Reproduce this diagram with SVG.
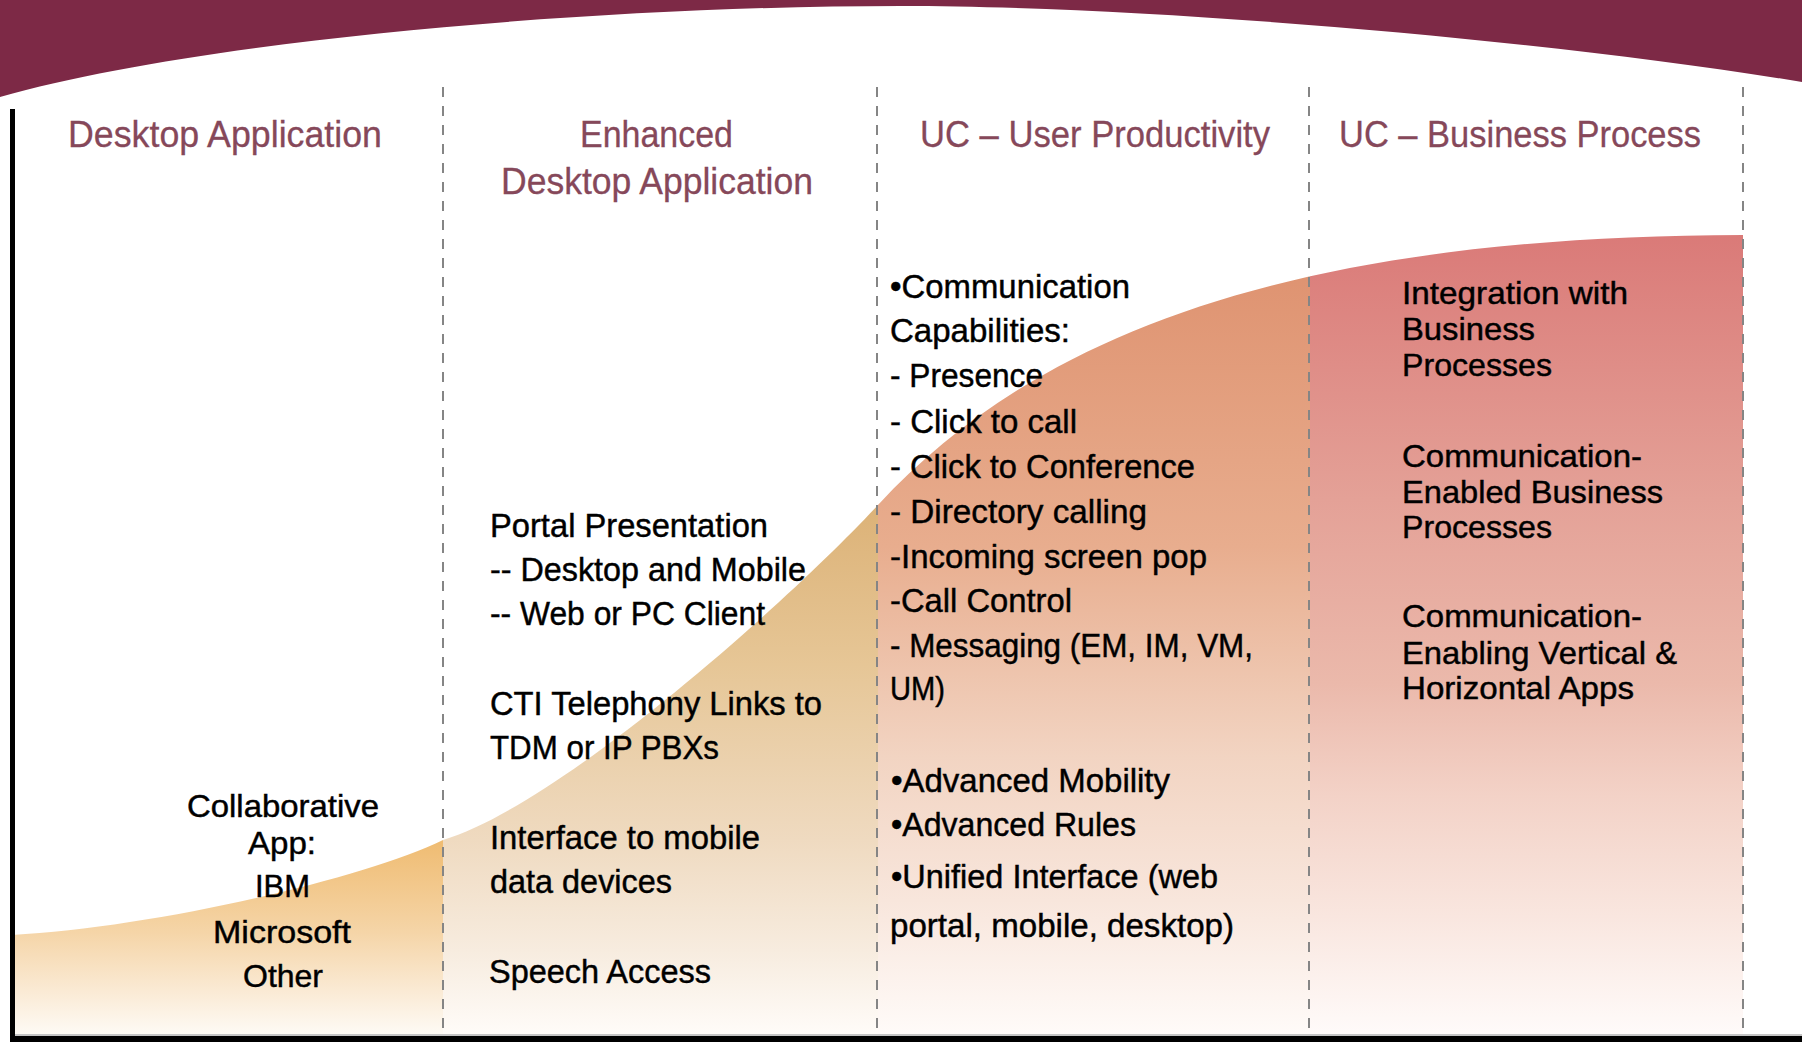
<svg xmlns="http://www.w3.org/2000/svg" width="1802" height="1042" viewBox="0 0 1802 1042">
<style>
.hdr{font-family:"Liberation Sans","Arial",sans-serif;font-size:37px;fill:#86485a;stroke:#86485a;stroke-width:0.3}
.b32{font-family:"Liberation Sans","Arial",sans-serif;font-size:32px;fill:#000;stroke:#000;stroke-width:0.45}
.b34{font-family:"Liberation Sans","Arial",sans-serif;font-size:34px;fill:#000;stroke:#000;stroke-width:0.45}
.div{stroke:#858585;stroke-width:2;stroke-dasharray:10 9;fill:none}
</style>
<defs>
<clipPath id="area">
<path d="M12,935 C150,928 360,880 443,840 C560,805 790,600 878,505 C1040,330 1300,236 1743,235 V1036 H12 Z"/>
</clipPath>
<linearGradient id="g1" gradientUnits="userSpaceOnUse" x1="0" y1="838" x2="0" y2="1036">
<stop offset="0" stop-color="#efbb70"/><stop offset="0.48" stop-color="#f5d5a8"/><stop offset="0.77" stop-color="#faead4"/><stop offset="1" stop-color="#fefbf6"/>
</linearGradient>
<linearGradient id="g2" gradientUnits="userSpaceOnUse" x1="0" y1="505" x2="0" y2="1036">
<stop offset="0" stop-color="#dcb277"/><stop offset="0.3" stop-color="#e6c696"/><stop offset="0.63" stop-color="#efdac0"/><stop offset="0.84" stop-color="#f7ecdf"/><stop offset="1" stop-color="#fffcf9"/>
</linearGradient>
<linearGradient id="g3" gradientUnits="userSpaceOnUse" x1="0" y1="282" x2="0" y2="1036">
<stop offset="0" stop-color="#df9472"/><stop offset="0.35" stop-color="#e8ad8e"/><stop offset="0.63" stop-color="#f2d4c2"/><stop offset="0.82" stop-color="#f8e6dc"/><stop offset="1" stop-color="#fffbf9"/>
</linearGradient>
<linearGradient id="g4" gradientUnits="userSpaceOnUse" x1="0" y1="235" x2="0" y2="1036">
<stop offset="0" stop-color="#da7a78"/><stop offset="0.33" stop-color="#e4a197"/><stop offset="0.56" stop-color="#ebb9ab"/><stop offset="0.7" stop-color="#f3d2c7"/><stop offset="0.85" stop-color="#f9e6df"/><stop offset="1" stop-color="#fffbfa"/>
</linearGradient>
</defs>
<rect width="1802" height="1042" fill="#fff"/>
<path id="top-band" d="M0,0 H1802 V82 C1550,40 1150,6 900,6 C600,6 200,40 0,97 Z" fill="#7d2946"/>
<g id="adoption-curve" clip-path="url(#area)">
<rect x="12" y="230" width="431" height="810" fill="url(#g1)"/>
<rect x="443" y="230" width="435" height="810" fill="url(#g2)"/>
<rect x="878" y="230" width="432" height="810" fill="url(#g3)"/>
<rect x="1310" y="230" width="433" height="810" fill="url(#g4)"/>
</g>
<g id="frame">
<rect x="10" y="109" width="5" height="933" fill="#000"/>
<rect x="10" y="1036" width="1792" height="6" fill="#000"/>
<rect x="15" y="1034" width="1787" height="2" fill="#c4c4c4"/>
</g>
<g id="connectors">
<line class="div" x1="443" y1="87" x2="443" y2="1032"/>
<line class="div" x1="877" y1="87" x2="877" y2="1032"/>
<line class="div" x1="1309" y1="87" x2="1309" y2="1032"/>
<line class="div" x1="1743" y1="87" x2="1743" y2="1032"/>
</g>
<g id="col-desktop">
<text class="hdr" x="68" y="147" textLength="314" lengthAdjust="spacingAndGlyphs">Desktop Application</text>
<text class="b32" x="187" y="817" textLength="192" lengthAdjust="spacingAndGlyphs">Collaborative</text>
<text class="b32" x="248" y="854" textLength="68" lengthAdjust="spacingAndGlyphs">App:</text>
<text class="b32" x="255" y="897" textLength="55" lengthAdjust="spacingAndGlyphs">IBM</text>
<text class="b32" x="213" y="943" textLength="138" lengthAdjust="spacingAndGlyphs">Microsoft</text>
<text class="b32" x="243" y="987" textLength="80" lengthAdjust="spacingAndGlyphs">Other</text>
</g>
<g id="col-enhanced">
<text class="hdr" x="580" y="147" textLength="153" lengthAdjust="spacingAndGlyphs">Enhanced</text>
<text class="hdr" x="501" y="194" textLength="312" lengthAdjust="spacingAndGlyphs">Desktop Application</text>
<text class="b34" x="490" y="537" textLength="278" lengthAdjust="spacingAndGlyphs">Portal Presentation</text>
<text class="b34" x="490" y="581" textLength="316" lengthAdjust="spacingAndGlyphs">-- Desktop and Mobile</text>
<text class="b34" x="490" y="625" textLength="275" lengthAdjust="spacingAndGlyphs">-- Web or PC Client</text>
<text class="b34" x="490" y="715" textLength="332" lengthAdjust="spacingAndGlyphs">CTI Telephony Links to</text>
<text class="b34" x="490" y="759" textLength="229" lengthAdjust="spacingAndGlyphs">TDM or IP PBXs</text>
<text class="b34" x="490" y="849" textLength="270" lengthAdjust="spacingAndGlyphs">Interface to mobile</text>
<text class="b34" x="490" y="893" textLength="182" lengthAdjust="spacingAndGlyphs">data devices</text>
<text class="b34" x="489" y="983" textLength="222" lengthAdjust="spacingAndGlyphs">Speech Access</text>
</g>
<g id="col-uc-user">
<text class="hdr" x="920" y="147" textLength="350" lengthAdjust="spacingAndGlyphs">UC – User Productivity</text>
<text class="b34" x="890" y="298" textLength="240" lengthAdjust="spacingAndGlyphs">•Communication</text>
<text class="b34" x="890" y="342" textLength="180" lengthAdjust="spacingAndGlyphs">Capabilities:</text>
<text class="b34" x="890" y="387" textLength="153" lengthAdjust="spacingAndGlyphs">- Presence</text>
<text class="b34" x="890" y="433" textLength="187" lengthAdjust="spacingAndGlyphs">- Click to call</text>
<text class="b34" x="890" y="478" textLength="305" lengthAdjust="spacingAndGlyphs">- Click to Conference</text>
<text class="b34" x="890" y="523" textLength="257" lengthAdjust="spacingAndGlyphs">- Directory calling</text>
<text class="b34" x="890" y="568" textLength="317" lengthAdjust="spacingAndGlyphs">-Incoming screen pop</text>
<text class="b34" x="890" y="612" textLength="182" lengthAdjust="spacingAndGlyphs">-Call Control</text>
<text class="b34" x="890" y="657" textLength="363" lengthAdjust="spacingAndGlyphs">- Messaging (EM, IM, VM,</text>
<text class="b34" x="890" y="700" textLength="55" lengthAdjust="spacingAndGlyphs">UM)</text>
<text class="b34" x="891" y="792" textLength="279" lengthAdjust="spacingAndGlyphs">•Advanced Mobility</text>
<text class="b34" x="891" y="836" textLength="245" lengthAdjust="spacingAndGlyphs">•Advanced Rules</text>
<text class="b34" x="891" y="888" textLength="327" lengthAdjust="spacingAndGlyphs">•Unified Interface (web</text>
<text class="b34" x="890" y="937" textLength="344" lengthAdjust="spacingAndGlyphs">portal, mobile, desktop)</text>
</g>
<g id="col-uc-business">
<text class="hdr" x="1339" y="147" textLength="362" lengthAdjust="spacingAndGlyphs">UC – Business Process</text>
<text class="b32" x="1402" y="304" textLength="226" lengthAdjust="spacingAndGlyphs">Integration with</text>
<text class="b32" x="1402" y="340" textLength="133" lengthAdjust="spacingAndGlyphs">Business</text>
<text class="b32" x="1402" y="376" textLength="150" lengthAdjust="spacingAndGlyphs">Processes</text>
<text class="b32" x="1402" y="467" textLength="240" lengthAdjust="spacingAndGlyphs">Communication-</text>
<text class="b32" x="1402" y="503" textLength="261" lengthAdjust="spacingAndGlyphs">Enabled Business</text>
<text class="b32" x="1402" y="538" textLength="150" lengthAdjust="spacingAndGlyphs">Processes</text>
<text class="b32" x="1402" y="627" textLength="240" lengthAdjust="spacingAndGlyphs">Communication-</text>
<text class="b32" x="1402" y="664" textLength="275" lengthAdjust="spacingAndGlyphs">Enabling Vertical &amp;</text>
<text class="b32" x="1402" y="699" textLength="232" lengthAdjust="spacingAndGlyphs">Horizontal Apps</text>
</g>
</svg>
